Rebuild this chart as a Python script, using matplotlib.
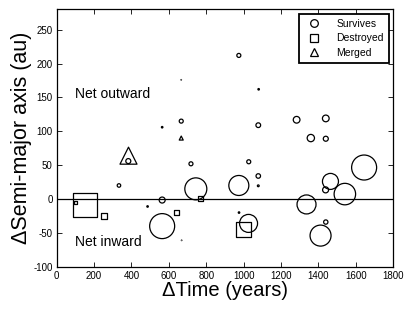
#!/usr/bin/env python3

import matplotlib
matplotlib.use("Agg")
import matplotlib.pyplot as plt
from matplotlib.lines import Line2D

plt.rcParams["font.family"] = ["Liberation Sans", "DejaVu Sans"]
plt.rcParams["axes.unicode_minus"] = False

# survives (open circles); size = apparent planet size
survive_time = [974, 666, 1078, 1027, 1078, 974, 1026, 383, 333, 564, 564, 718, 744,
                1283, 1439, 1359, 1439, 1644, 1464, 1438, 1541, 1336, 1439, 1411,
                666, 564, 1080, 1078, 486, 668, 975]
survive_da = [212, 115, 109, 55, 34, 20, -36, 56, 20, -1.5, -40, 52, 15,
              117, 119, 90, 89, 46.5, 26, 13.5, 7.3, -8, -34, -54,
              176, 106, 162, 19.5, -11, -61, -20]
survive_size = [4, 4, 4.7, 4, 4.5, 20, 18, 5, 3.5, 6, 25, 4, 22,
                6.7, 6.7, 7.3, 5, 25, 16, 6, 21.5, 19, 4.3, 21,
                0.5, 1.5, 1.5, 1.8, 1.5, 0.5, 1.5]

# destroyed (open squares)
destroyed_time = [153, 100, 255, 641, 770, 1001]
destroyed_da = [-8.5, -5, -24.6, -20.6, 0.4, -45]
destroyed_size = [24, 3, 6, 5, 5, 15]

# merged (open triangles)
merged_time = [384, 666]
merged_da = [64, 90]
merged_size = [17, 4]

PX = 0.72  # points per pixel at dpi 100


def sizes(values):
    return [(v * PX) ** 2 for v in values]


fig = plt.figure(figsize=(4.15, 3.12), dpi=100)
ax = fig.add_axes([0.1366, 0.145, 0.8111, 0.825])

ax.axhline(0, color="k", lw=0.9, zorder=1)

ax.scatter(survive_time, survive_da, s=sizes(survive_size), marker="o",
           facecolors="none", edgecolors="k", linewidths=0.9, zorder=3)
ax.scatter(destroyed_time, destroyed_da, s=sizes(destroyed_size), marker="s",
           facecolors="none", edgecolors="k", linewidths=0.9, zorder=3)
ax.scatter(merged_time, merged_da, s=sizes(merged_size), marker="^",
           facecolors="none", edgecolors="k", linewidths=0.9, zorder=3)

ax.text(100, 155, "Net outward", fontsize=10, va="center", ha="left")
ax.text(100, -64, "Net inward", fontsize=10, va="center", ha="left")

ax.set_xlim(0, 1800)
ax.set_ylim(-100, 280)
ax.set_xticks(range(0, 1801, 200))
ax.set_yticks(range(-100, 251, 50))
ax.tick_params(direction="in", top=True, right=True, length=3.5, width=0.6,
               labelsize=7, pad=3)
for sp in ax.spines.values():
    sp.set_linewidth(0.9)

ax.set_xlabel("\u0394Time (years)", fontsize=14.5, labelpad=0)
ax.set_ylabel("\u0394Semi-major axis (au)", fontsize=15.5, labelpad=1)

handles = [
    Line2D([], [], ls="none", marker="o", mfc="none", mec="k", ms=5.5, mew=0.9),
    Line2D([], [], ls="none", marker="s", mfc="none", mec="k", ms=5.5, mew=0.9),
    Line2D([], [], ls="none", marker="^", mfc="none", mec="k", ms=5.5, mew=0.9),
]
leg = ax.legend(handles, ["Survives", "Destroyed", "Merged"], loc="upper right",
                fontsize=7.5, frameon=True, fancybox=False, edgecolor="k",
                framealpha=1, borderaxespad=0.4, handletextpad=1.3,
                labelspacing=0.45, borderpad=0.5, handlelength=1.8)
leg.get_frame().set_linewidth(1.3)

fig.savefig("out.png", dpi=100)
